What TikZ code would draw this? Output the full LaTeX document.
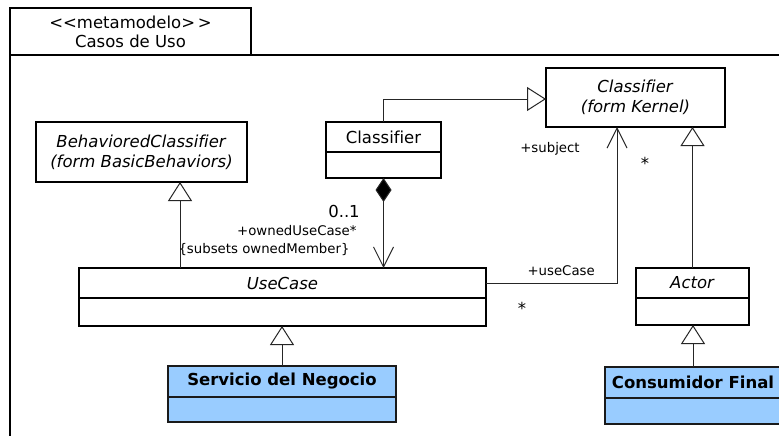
\documentclass[tikz,border=0pt]{standalone}
\usepackage{fontspec}
\setmainfont{DejaVu Sans}[Ligatures=NoCommon]
\usetikzlibrary{arrows.meta}
\definecolor{classblue}{HTML}{99CCFF}
\definecolor{edge}{HTML}{1A1A1A}
\begin{document}
\begin{tikzpicture}[x=1pt,y=-1pt,
  big/.style={font=\fontsize{16.5}{20}\selectfont},
  small/.style={font=\fontsize{13.3}{15}\selectfont},
  box/.style={draw=black, line width=1.2pt, inner sep=0pt, outer sep=0pt, fill=white, big},
  hdr/.style={box, anchor=north west},
  cmp/.style={box, anchor=north},
  bluehdr/.style={draw=edge, line width=2pt, inner sep=0pt, outer sep=0pt, fill=classblue, anchor=north west, big},
  bluecmp/.style={draw=edge, line width=2pt, inner sep=0pt, outer sep=0pt, fill=classblue, anchor=north},
  conn/.style={draw=black!85, line width=1pt},
  gen/.style={conn, -{Triangle[open, length=19pt, width=24pt, fill=white]}},
  assoc/.style={conn, -{Straight Barb[length=20pt, width=20pt, line width=1pt]}},
  comp/.style={conn, {Diamond[length=24pt, width=16pt, fill=black]}-{Straight Barb[length=20pt, width=20pt, line width=1pt]}},
  frame/.style={draw=black, line width=1.4pt}]
\useasboundingbox (0,0) rectangle (779,436);
\clip (0,0) rectangle (779,436);
\fill[white] (0,0) rectangle (779,436);

% package frame with its name tab
\node[box, anchor=north west, minimum width=241pt, minimum height=47pt, align=center, line width=1.4pt] (tab) at (10,8)
  {{<}{<}metamodelo{>}\,{>}\\[-1pt]Casos de Uso};
\draw[frame] (800,55) -- (10,55) -- (10,460);

% classes
\node[hdr, minimum width=211pt, minimum height=60pt, align=center] (bc) at (36,122)
  {\textit{BehavioredClassifier}\\\textit{(form BasicBehaviors)}};

\node[hdr, minimum width=115pt, minimum height=30pt] (cls) at (326,122) {Classifier};
\node[cmp, minimum width=115pt, minimum height=26pt] (clsb) at (cls.south) {};

\node[hdr, minimum width=179pt, minimum height=59pt, align=center] (kern) at (546,68)
  {\textit{Classifier}\\\textit{(form Kernel)}};

\node[hdr, minimum width=407pt, minimum height=30pt] (uc) at (79,268) {\textit{UseCase}};
\node[cmp, minimum width=407pt, minimum height=28pt] (ucb) at (uc.south) {};

\node[hdr, minimum width=113pt, minimum height=30pt] (act) at (636,268) {\textit{Actor}};
\node[cmp, minimum width=113pt, minimum height=27pt] (actb) at (act.south) {};

\node[bluehdr, minimum width=228pt, minimum height=31pt] (serv) at (168,366) {\textbf{Servicio del Negocio}};
\node[bluecmp, minimum width=228pt, minimum height=25pt] (servb) at (serv.south) {};

\node[bluehdr, minimum width=176pt, minimum height=31pt] (cons) at (605,367) {\textbf{Consumidor Final}};
\node[bluecmp, minimum width=176pt, minimum height=26pt] (consb) at (cons.south) {};

% generalizations
\draw[gen] (cls.north) |- ([yshift=-1.5pt]kern.west);
\draw[gen] ([xshift=101pt]uc.north west) -- ([xshift=101pt]uc.north west |- bc.south);
\draw[gen] (act.north) -- (act.north |- kern.south);
\draw[gen] (serv.north) -- (serv.north |- ucb.south);
\draw[gen] (cons.north) -- (cons.north |- actb.south);

% composition Classifier -> UseCase
\draw[comp] (clsb.south) -- (clsb.south |- uc.north);

% association UseCase -> Classifier (subject)
\draw[assoc] (uc.east) -| ([xshift=-18.5pt]kern.south);

% association end labels
\node[small] (lsubj) at (550,149) {+subject};
\node[big] (lstar1) at (645,163) {*};
\node[big] (lmult) at (344,211) {0..1};
\node[small, anchor=east] (lowned) at (360,231) {+ownedUseCase*};
\node[small, anchor=west] (lsub) at (175,250) {\{subsets ownedMember\}};
\node[small, anchor=west] (luc) at (524,271) {+useCase};
\node[big] (lstar2) at (522,308) {*};
\end{tikzpicture}
\end{document}
